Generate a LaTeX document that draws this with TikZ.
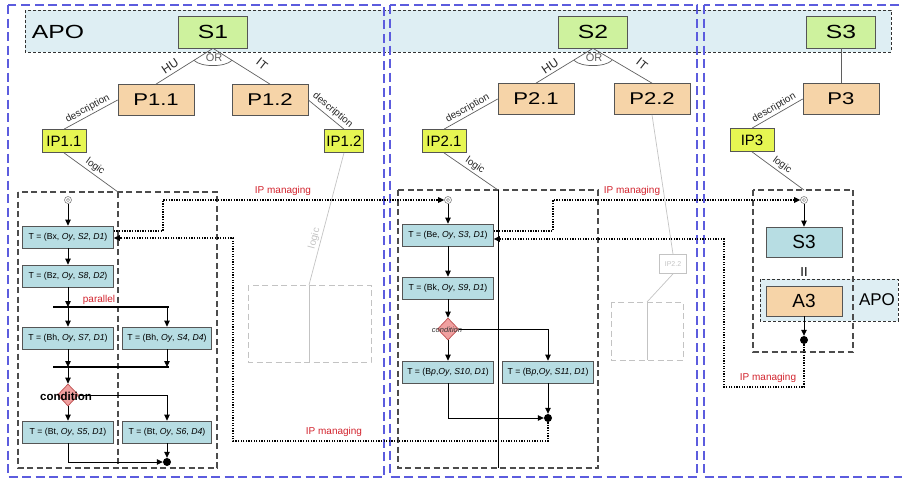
\documentclass[tikz,border=0pt]{standalone}
\usepackage{fontspec}
\setmainfont{Liberation Sans}
\newfontfamily\widefont{Liberation Sans}[FakeStretch=1.3]
\usetikzlibrary{arrows.meta,shapes.geometric,calc}
\definecolor{sgreen}{RGB}{206,242,158}
\definecolor{ptan}{RGB}{246,212,168}
\definecolor{ipyel}{RGB}{230,246,82}
\definecolor{tteal}{RGB}{183,221,227}
\definecolor{apobg}{RGB}{222,238,243}
\definecolor{bluedash}{RGB}{92,92,222}
\definecolor{ipred}{RGB}{210,35,45}
\definecolor{dpink}{RGB}{240,160,160}
\definecolor{dborder}{RGB}{190,80,80}
\definecolor{boxborder}{RGB}{85,85,85}
\definecolor{linegray}{RGB}{95,95,95}
\definecolor{fadegray}{RGB}{195,195,195}
\begin{document}
\begin{tikzpicture}[x=1pt,y=-1pt,
  every node/.style={inner sep=0pt},
  box/.style={draw=boxborder, line width=0.7pt},
  sbox/.style={box, fill=sgreen, minimum width=69pt, minimum height=32pt, font=\widefont\fontsize{19}{19}\selectfont},
  pbox/.style={box, fill=ptan, minimum width=76pt, minimum height=31pt, font=\widefont\fontsize{17}{17}\selectfont},
  ipbox/.style={box, fill=ipyel, minimum width=44pt, minimum height=23pt, font=\fontsize{15}{15}\selectfont},
  tbox/.style={box, fill=tteal, minimum width=91pt, minimum height=22pt, font=\fontsize{8.7}{8.7}\selectfont},
  bigteal/.style={box, fill=tteal, minimum width=76pt, minimum height=30pt, font=\fontsize{19}{19}\selectfont},
  bigtan/.style={box, fill=ptan, minimum width=76pt, minimum height=30pt, font=\fontsize{19}{19}\selectfont},
  fadebox/.style={draw=fadegray, line width=0.7pt, minimum width=27pt, minimum height=19pt, text=fadegray, font=\fontsize{7}{7}\selectfont},
  decision/.style={diamond, draw=dborder, fill=dpink, line width=0.7pt, minimum width=21pt, minimum height=22pt, aspect=1},
  startsym/.style={circle, draw=gray, line width=0.6pt, minimum size=7pt,
     path picture={\draw[gray, line width=0.5pt] (path picture bounding box.center) circle[radius=1.6pt];}},
  joindot/.style={circle, fill=black, minimum size=8pt},
  bluebox/.style={draw=bluedash, line width=1.4pt, dash pattern=on 9pt off 4.5pt},
  apoband/.style={draw=black!80, fill=apobg, line width=0.8pt, dash pattern=on 3pt off 2pt},
  cont/.style={draw=black!70, line width=1.1pt, dash pattern=on 6pt off 3.5pt},
  fadecont/.style={draw=fadegray, line width=1pt, dash pattern=on 6pt off 3.5pt},
  rel/.style={draw=linegray, line width=0.7pt},
  arr/.style={draw=black, line width=0.8pt, -{Triangle[length=6pt,width=5.5pt]}},
  ipm/.style={draw=black, line width=1.3pt, dash pattern=on 1.3pt off 1.3pt},
  ipmarr/.style={ipm, -{Triangle[length=6pt,width=5.5pt]}},
  bar/.style={draw=black, line width=2pt},
  lbl/.style={font=\fontsize{10}{10}\selectfont, text=black!85},
  hulbl/.style={font=\fontsize{12}{12}\selectfont, text=black!85},
  redlbl/.style={font=\fontsize{10}{10}\selectfont, text=ipred},
  apotext/.style={font=\widefont\fontsize{19}{19}\selectfont}
]
\useasboundingbox (0,0) rectangle (902,480);

% APO band
\draw[apoband] (25,10) rectangle (891,52);
\node[apotext] (apo1) at (58,32) {APO};

% outer blue dashed frames
\draw[bluebox] (8,5) rectangle (384,477);
\draw[bluebox] (390,5) rectangle (697,477);
\draw[bluebox] (704,5) rectangle (910,477);

% flow containers
\draw[cont] (18,192) rectangle (217,468);
\draw[cont] (118,192) -- (118,468);
\draw[cont] (398,190) rectangle (598,468);
\draw[draw=black, line width=0.9pt] (498,190) -- (498,468);
\draw[apoband] (760,279) rectangle (898,321);
\node[font=\fontsize{17}{17}\selectfont] (apo2) at (877,300) {APO};
\draw[cont] (753,190) rectangle (853,352);
\draw[fadecont] (248,285) rectangle (371,362);
\draw[draw=fadegray, line width=0.8pt] (309,285) -- (309,362);
\draw[fadecont] (611,302) rectangle (683,360);
\draw[draw=fadegray, line width=0.8pt] (647,302) -- (647,360);

\coordinate (L1) at (118,192);
\coordinate (L2) at (498,190);
\coordinate (L3) at (804,190);
\coordinate (L1f) at (309,285);
\coordinate (L2f) at (647,302);

% top level nodes
\node[sbox] (S1) at (213,32) {S1};
\node[sbox] (S2) at (593,32) {S2};
\node[sbox] (S3) at (841,32) {S3};
\node[pbox] (P11) at (156,100) {P1.1};
\node[pbox] (P12) at (270,100) {P1.2};
\node[pbox] (P21) at (536,99) {P2.1};
\node[pbox] (P22) at (652,99) {P2.2};
\node[pbox] (P3) at (841,99) {P3};
\node[ipbox] (IP11) at (64,141) {IP1.1};
\node[ipbox, minimum width=39pt] (IP12) at (344,141) {IP1.2};
\node[ipbox] (IP21) at (444,141) {IP2.1};
\node[ipbox] (IP3) at (752,140) {IP3};
\node[fadebox] (IP22) at (673,264) {IP2.2};

% OR relations
\draw[rel] (S1.south) -- (P11.north);
\draw[rel] (S1.south) -- (P12.north);
\draw[rel] ($(S1.south)+(-19,12)$) .. controls ($(S1.south)+(-12,19)$) and ($(S1.south)+(12,19)$) .. ($(S1.south)+(19,12)$);
\node[lbl, font=\fontsize{11}{11}\selectfont, text=linegray] (or1) at (214,58) {OR};
\node[hulbl, rotate=34] (hu1) at (170,66) {HU};
\node[hulbl, rotate=-38] (it1) at (262,64) {IT};

\draw[rel] (S2.south) -- (P21.north);
\draw[rel] (S2.south) -- (P22.north);
\draw[rel] ($(S2.south)+(-19,12)$) .. controls ($(S2.south)+(-12,19)$) and ($(S2.south)+(12,19)$) .. ($(S2.south)+(19,12)$);
\node[lbl, font=\fontsize{11}{11}\selectfont, text=linegray] (or2) at (594,58) {OR};
\node[hulbl, rotate=34] (hu2) at (550,66) {HU};
\node[hulbl, rotate=-38] (it2) at (642,64) {IT};

\draw[rel] (S3.south) -- (P3.north);

% description / logic
\draw[rel] (P11.west) -- node[lbl, midway, sloped, above=1.5pt] (d1) {description} (IP11.north);
\draw[rel] (P12.east) -- node[lbl, pos=0.55, sloped, above=2.5pt] (d2) {description} (IP12.north);
\draw[rel] (P21.west) -- node[lbl, midway, sloped, above=1.5pt] (d3) {description} (IP21.north);
\draw[rel] (P3.west) -- node[lbl, midway, sloped, above=1.5pt] (d4) {description} (IP3.north);
\draw[rel] (IP11.south) -- node[lbl, midway, sloped, above=2pt] (g1) {logic} (L1);
\draw[rel] (IP21.south) -- node[lbl, midway, sloped, above=2pt] (g2) {logic} (L2);
\draw[rel] (IP3.south) -- node[lbl, midway, sloped, above=2pt] (g3) {logic} (L3);
\draw[draw=fadegray, line width=0.7pt] (IP12.south) -- node[lbl, pos=0.66, sloped, above=1.5pt, text=fadegray] (g4) {logic} (L1f);
\draw[draw=fadegray, line width=0.7pt] (P22.south) -- (IP22.north);
\draw[draw=fadegray, line width=0.7pt] (IP22.south) -- (L2f);

% flow 1
\node[startsym] (st1) at (68,200) {};
\node[tbox] (T11) at (68,237) {T = (Bx, \textit{Oy}, \textit{S2}, \textit{D1})};
\node[tbox] (T12) at (68,276) {T = (Bz, \textit{Oy}, \textit{S8}, \textit{D2})};
\node[tbox] (T13) at (68,338) {T = (Bh, \textit{Oy}, \textit{S7}, \textit{D1})};
\node[tbox, minimum width=89pt] (T14) at (167,338) {T = (Bh, \textit{Oy}, \textit{S4}, \textit{D4})};
\node[decision] (D1) at (68,395) {};
\node[tbox] (T15) at (68,432) {T = (Bt, \textit{Oy}, \textit{S5}, \textit{D1})};
\node[tbox, minimum width=89pt] (T16) at (167,432) {T = (Bt, \textit{Oy}, \textit{S6}, \textit{D4})};
\node[joindot] (dot1) at (167,462) {};
\coordinate (b1L) at (53,307);
\coordinate (b1R) at (169,307);
\coordinate (b2L) at (53,367);
\coordinate (b2R) at (169,367);
\draw[bar] (b1L) -- (b1R);
\draw[bar] (b2L) -- (b2R);
\node[redlbl] (par) at (99,300) {parallel};

\draw[arr] (st1) -- (T11);
\draw[arr] (T11) -- (T12);
\draw[arr] (T12.south) -- (T12.south |- b1L);
\draw[arr] (T13.north |- b1L) -- (T13.north);
\draw[arr] (T14.north |- b1L) -- (T14.north);
\draw[arr] (T13.south) -- (T13.south |- b2L);
\draw[arr] (T14.south) -- (T14.south |- b2L);
\draw[arr] (D1.north |- b2L) -- (D1.north);
\draw[arr] (D1.south) -- (T15.north);
\draw[arr] (D1.east) -| (T16.north);
\draw[arr] (T15.south) |- (dot1.west);
\draw[arr] (T16.south) -- (dot1.north);
\node[font=\bfseries\fontsize{11.5}{11.5}\selectfont] (c1) at (66,396) {condition};

% flow 2
\node[startsym] (st2) at (448,200) {};
\node[tbox] (T21) at (448,235) {T = (Be, \textit{Oy}, \textit{S3}, \textit{D1})};
\node[tbox] (T22) at (448,288) {T = (Bk, \textit{Oy}, \textit{S9}, \textit{D1})};
\node[decision] (D2) at (448,329) {};
\node[font=\itshape\fontsize{7.5}{7.5}\selectfont, text=black!80] (c2) at (447,330) {condition};
\node[tbox] (T23) at (448,372) {T = (B\textit{p},\textit{Oy}, \textit{S10}, \textit{D1})};
\node[tbox] (T24) at (548,372) {T = (B\textit{p},\textit{Oy}, \textit{S11}, \textit{D1})};
\node[joindot] (dot2) at (548,418) {};
\draw[arr] (st2) -- (T21);
\draw[arr] (T21) -- (T22);
\draw[arr] (T22) -- (D2);
\draw[arr] (D2) -- (T23);
\draw[arr] (D2.east) -| (T24.north);
\draw[arr] (T23.south) |- (dot2.west);
\draw[arr] (T24.south) -- (dot2.north);

% flow 3
\node[startsym] (st3) at (804,200) {};
\node[bigteal] (S3b) at (804,242) {S3};
\node[font=\fontsize{13}{13}\selectfont] (par3) at (804,272) {II};
\node[bigtan] (A3) at (804,301) {A3};
\node[joindot] (dot3) at (804,340) {};
\draw[arr] (st3) -- (S3b);
\draw[arr] (A3) -- (dot3);

% IP managing links
\draw[ipmarr] ($(T11.east)+(0,-6)$) -| (163,200) -- (st2.west);
\node[redlbl] (ipl1) at (283,191) {IP managing};
\draw[ipmarr] ($(T21.east)+(0,-4)$) -| (553,200) -- (st3.west);
\node[redlbl] (ipl2) at (632,191) {IP managing};
\draw[ipmarr] (dot2.south) -- (548,441) -| (233,238) -- ($(T11.east)+(0,1)$);
\node[redlbl] (ipl3) at (334,432) {IP managing};
\draw[ipmarr] (dot3.south) -- (804,387) -| (724,239) -- ($(T21.east)+(0,4)$);
\node[redlbl] (ipl4) at (768,378) {IP managing};
\end{tikzpicture}
\end{document}
